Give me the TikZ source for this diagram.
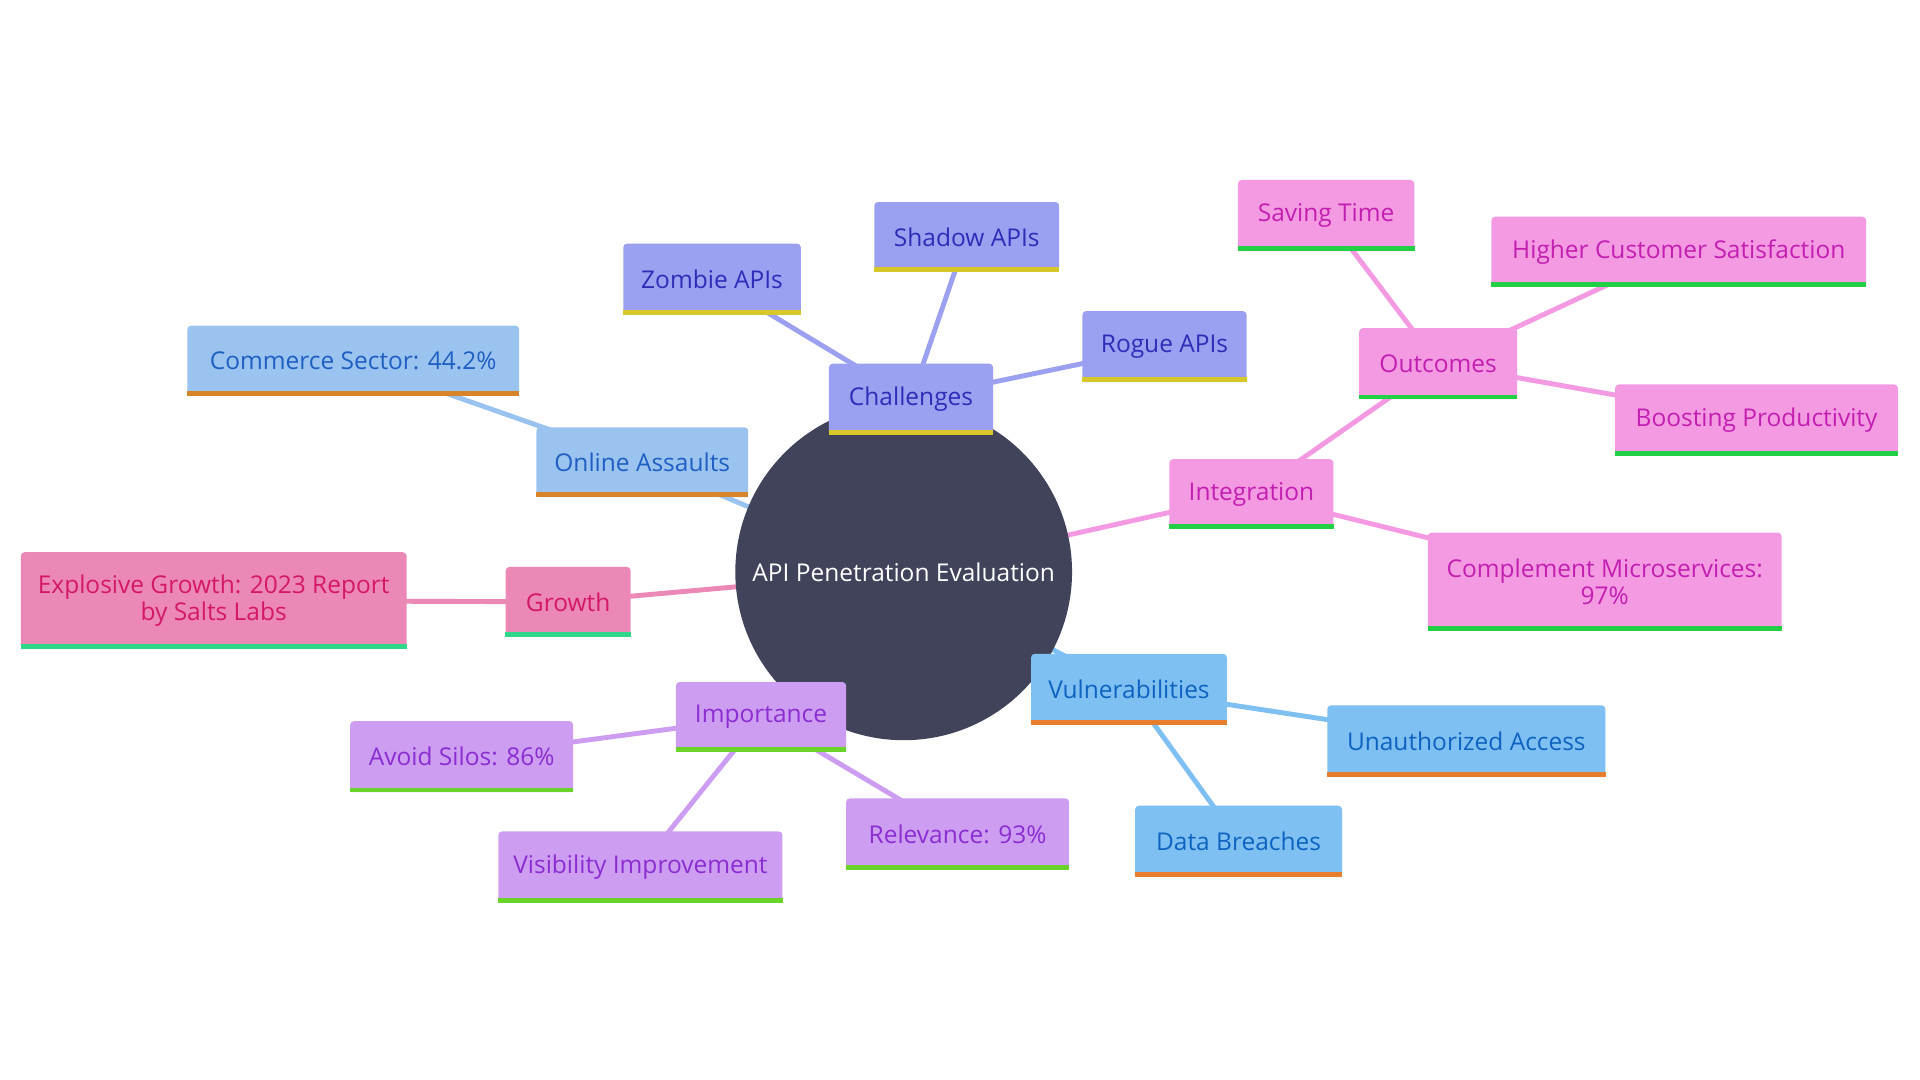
\documentclass[tikz,border=0pt]{standalone}
\usepackage{fontspec}
\setmainfont{Open Sans}
\definecolor{rootF}{HTML}{40435A}
\definecolor{chalF}{HTML}{9CA0F0}\definecolor{chalT}{HTML}{2D2DB8}\definecolor{chalB}{HTML}{D6C82B}
\definecolor{onlF}{HTML}{9AC3F0}\definecolor{onlT}{HTML}{1F5FC2}\definecolor{onlB}{HTML}{D98428}
\definecolor{groF}{HTML}{EC88B5}\definecolor{groT}{HTML}{D41869}\definecolor{groB}{HTML}{2ED888}
\definecolor{impF}{HTML}{CD9DF2}\definecolor{impT}{HTML}{8B2DD0}\definecolor{impB}{HTML}{6AD32A}
\definecolor{vulF}{HTML}{7EC0F2}\definecolor{vulT}{HTML}{0E63C0}\definecolor{vulB}{HTML}{E67E2E}
\definecolor{intF}{HTML}{F39AE3}\definecolor{intT}{HTML}{C21FB0}\definecolor{intB}{HTML}{22D046}
\begin{document}
\begin{tikzpicture}[x=1pt,y=-1pt,
  box/.style={rectangle, rounded corners=3pt, inner sep=2pt, align=center,
    font=\fontsize{20}{22}\selectfont},
  conn/.style={line width=4pt},
  chal/.style={box, fill=chalF, text=chalT},
  onl/.style={box, fill=onlF, text=onlT},
  gro/.style={box, fill=groF, text=groT},
  imp/.style={box, fill=impF, text=impT},
  vul/.style={box, fill=vulF, text=vulT},
  intg/.style={box, fill=intF, text=intT},
  sz/.style 2 args={minimum width=#1pt, minimum height=#2pt}
]
\useasboundingbox[fill=white] (0,0) rectangle (1568,882);
% node positions (coordinates only, for connectors drawn first)
\coordinate (c0) at (738,467);
\coordinate (cchal) at (744,326);
\coordinate (czom) at (581.5,228);
\coordinate (csha) at (789.5,193.5);
\coordinate (crog) at (951,283);
\coordinate (conl) at (524.5,377.5);
\coordinate (ccom) at (288.5,294.5);
\coordinate (cgro) at (464,491.5);
\coordinate (cexp) at (174.5,490.5);
\coordinate (cimp) at (621.5,585.5);
\coordinate (cavo) at (377,618);
\coordinate (cvis) at (523,708);
\coordinate (crel) at (782,681);
\coordinate (cvul) at (922,563);
\coordinate (cuna) at (1197.5,605);
\coordinate (cbre) at (1011.5,687);
\coordinate (cint) at (1022,403.5);
\coordinate (ccpl) at (1310.5,475);
\coordinate (cout) at (1174.5,297);
\coordinate (csav) at (1083,176);
\coordinate (chig) at (1371,205.5);
\coordinate (cboo) at (1434.5,343);
% connectors
\draw[conn, chalF] (c0) -- (cchal) (cchal) -- (czom) (cchal) -- (csha) (cchal) -- (crog);
\draw[conn, onlF] (c0) -- (conl) (conl) -- (ccom);
\draw[conn, groF] (c0) -- (cgro) (cgro) -- (cexp);
\draw[conn, impF] (c0) -- (cimp) (cimp) -- (cavo) (cimp) -- (cvis) (cimp) -- (crel);
\draw[conn, vulF] (c0) -- (cvul) (cvul) -- (cuna) (cvul) -- (cbre);
\draw[conn, intF] (c0) -- (cint) (cint) -- (ccpl) (cint) -- (cout) (cout) -- (csav) (cout) -- (chig) (cout) -- (cboo);
% root
\node[circle, fill=rootF, text=white, minimum size=275pt, inner sep=0pt,
  font=\fontsize{20}{22}\selectfont] (root) at (c0) {API Penetration Evaluation};
% nodes
\node[chal, sz={134}{58}] (chal) at (cchal) {Challenges};
\node[chal, sz={145}{58}] (zom) at (czom) {Zombie APIs};
\node[chal, sz={151}{57}] (sha) at (csha) {Shadow APIs};
\node[chal, sz={134}{58}] (rog) at (crog) {Rogue APIs};
\node[onl, sz={173}{57}] (onl) at (conl) {Online Assaults};
\node[onl, sz={271}{57}] (com) at (ccom) {Commerce Sector: 44.2\%};
\node[gro, sz={102}{57}] (gro) at (cgro) {Growth};
\node[gro, sz={315}{79}] (exp) at (cexp) {Explosive Growth: 2023 Report\\by Salts Labs};
\node[imp, sz={139}{57}] (imp) at (cimp) {Importance};
\node[imp, sz={182}{58}] (avo) at (cavo) {Avoid Silos: 86\%};
\node[imp, sz={232}{58}] (vis) at (cvis) {Visibility Improvement};
\node[imp, sz={182}{58}] (rel) at (crel) {Relevance: 93\%};
\node[vul, sz={160}{58}] (vul) at (cvul) {Vulnerabilities};
\node[vul, sz={227}{58}] (una) at (cuna) {Unauthorized Access};
\node[vul, sz={169}{58}] (bre) at (cbre) {Data Breaches};
\node[intg, sz={134}{57}] (int) at (cint) {Integration};
\node[intg, sz={289}{80}] (cpl) at (ccpl) {Complement Microservices:\\97\%};
\node[intg, sz={129}{58}] (out) at (cout) {Outcomes};
\node[intg, sz={144}{58}] (sav) at (csav) {Saving Time};
\node[intg, sz={306}{57}] (hig) at (chig) {Higher Customer Satisfaction};
\node[intg, sz={231}{58}] (boo) at (cboo) {Boosting Productivity};
% bottom bars
\foreach \n/\c in {chal/chalB, zom/chalB, sha/chalB, rog/chalB,
  onl/onlB, com/onlB, gro/groB, exp/groB,
  imp/impB, avo/impB, vis/impB, rel/impB,
  vul/vulB, una/vulB, bre/vulB,
  int/intB, cpl/intB, out/intB, sav/intB, hig/intB, boo/intB}
  \fill[\c] (\n.south west) rectangle ([yshift=4pt]\n.south east);
\end{tikzpicture}
\end{document}
